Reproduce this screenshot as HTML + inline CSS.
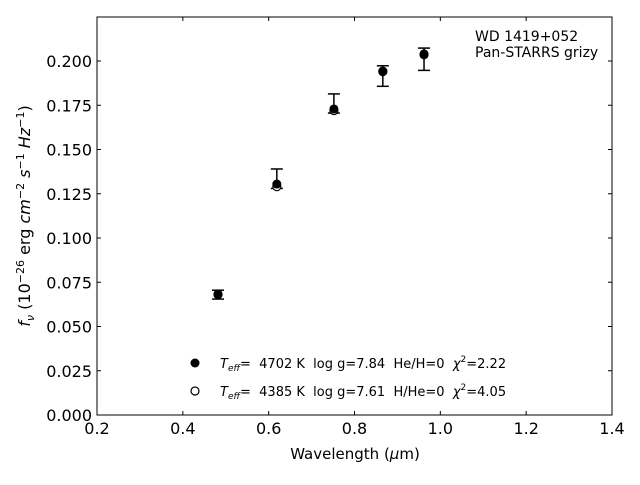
<!DOCTYPE html>
<html><head><meta charset="utf-8"><style>
body{margin:0;background:#fff;width:640px;height:480px;overflow:hidden}
svg{font-family:"DejaVu Sans","Liberation Sans",sans-serif}
text{white-space:pre}
</style></head><body>
<svg id="chart" width="640" height="480" xml:space="preserve">
<rect x="97" y="17" width="515" height="398" fill="none" stroke="#000" stroke-width="1"/>
<g id="ticks"></g>
<g id="marks"></g>
<text x="355" y="459" font-size="15" text-anchor="middle">Wavelength (<tspan font-style="italic">μ</tspan>m)</text>
<text transform="translate(30,216) rotate(-90)" font-size="16" text-anchor="middle"><tspan font-style="italic">f</tspan><tspan font-style="italic" font-size="11" dy="4">ν</tspan><tspan dy="-4"> (10</tspan><tspan font-size="11" dy="-6">−26</tspan><tspan dy="6"> erg </tspan><tspan font-style="italic">cm</tspan><tspan font-size="11" dy="-6">−2</tspan><tspan dy="6" font-style="italic"> s</tspan><tspan font-size="11" dy="-6">−1</tspan><tspan dy="6" font-style="italic"> Hz</tspan><tspan font-size="11" dy="-6">−1</tspan><tspan dy="6">)</tspan></text>
<text x="475" y="41" font-size="14">WD 1419+052</text>
<text x="475" y="57" font-size="14">Pan-STARRS grizy</text>
<g>
<circle cx="195" cy="363" r="4.5" fill="#000"/>
<text x="220" y="368" font-size="13"><tspan font-style="italic">T</tspan><tspan font-style="italic" font-size="9" dy="3">eff</tspan><tspan dy="-3">=  4702 K  log g=7.84  He/H=0  </tspan><tspan font-style="italic">χ</tspan><tspan font-size="9" dy="-6">2</tspan><tspan dy="6">=2.22</tspan></text>
<circle cx="195" cy="391" r="4" fill="#fff" stroke="#000" stroke-width="1.2"/>
<text x="220" y="396" font-size="13"><tspan font-style="italic">T</tspan><tspan font-style="italic" font-size="9" dy="3">eff</tspan><tspan dy="-3">=  4385 K  log g=7.61  H/He=0  </tspan><tspan font-style="italic">χ</tspan><tspan font-size="9" dy="-6">2</tspan><tspan dy="6">=4.05</tspan></text>
</g>
</svg>
<script>
const wavelengths=[0.482,0.619,0.752,0.866,0.962];
const obsLow=[0.0655,0.128,0.1706,0.1857,0.1947];
const obsHigh=[0.0705,0.139,0.1814,0.1973,0.2073];
const modelHe=[0.0684,0.1305,0.1729,0.1943,0.2040];
const modelH=[0.0680,0.1290,0.1720,0.1940,0.2035];
const xTicks=[0.2,0.4,0.6,0.8,1.0,1.2,1.4];
const yTicks=[0,0.025,0.05,0.075,0.1,0.125,0.15,0.175,0.2];
const NS='http://www.w3.org/2000/svg';
function X(v){return 97+(v-0.2)/1.2*515;}
function Y(v){return 415-v*1770;}
function mk(tag,attrs,parent){const e=document.createElementNS(NS,tag);for(const k in attrs)e.setAttribute(k,attrs[k]);parent.appendChild(e);return e;}
const tg=document.getElementById('ticks');
xTicks.forEach(t=>{const x=X(t);
 const l=mk('line',{x1:x,x2:x,y1:415,y2:411,stroke:'#000'},tg);
 
 
 const l2=mk('line',{x1:x,x2:x,y1:17,y2:21,stroke:'#000'},tg);
 
 
 const tx=mk('text',{x:x,y:434,'font-size':16,'text-anchor':'middle'},tg);tx.textContent=t.toFixed(1);
 
 
});
yTicks.forEach(t=>{const y=Y(t);
 const l=mk('line',{x1:97,x2:101,y1:y,y2:y,stroke:'#000'},tg);
 
 
 const l2=mk('line',{x1:612,x2:608,y1:y,y2:y,stroke:'#000'},tg);
 
 
 const tx=mk('text',{x:92,y:y+6,'font-size':16,'text-anchor':'end'},tg);tx.textContent=t.toFixed(3);
 
 
});
const mg=document.getElementById('marks');
wavelengths.forEach((w,i)=>{const x=X(w);
 const g=mk('g',{},mg);
 
 
 mk('line',{x1:x,x2:x,y1:Y(obsLow[i]),y2:Y(obsHigh[i]),stroke:'#000','stroke-width':1.5},g);
 mk('line',{x1:x-6,x2:x+6,y1:Y(obsLow[i]),y2:Y(obsLow[i]),stroke:'#000','stroke-width':1.5},g);
 mk('line',{x1:x-6,x2:x+6,y1:Y(obsHigh[i]),y2:Y(obsHigh[i]),stroke:'#000','stroke-width':1.5},g);
 const o=mk('circle',{cx:x,cy:Y(modelH[i]),r:4,fill:'#fff',stroke:'#000','stroke-width':1.2},mg);
 
 
 const f=mk('circle',{cx:x,cy:Y(modelHe[i]),r:4.5,fill:'#000'},mg);
 
 
});
</script>
</body></html>
